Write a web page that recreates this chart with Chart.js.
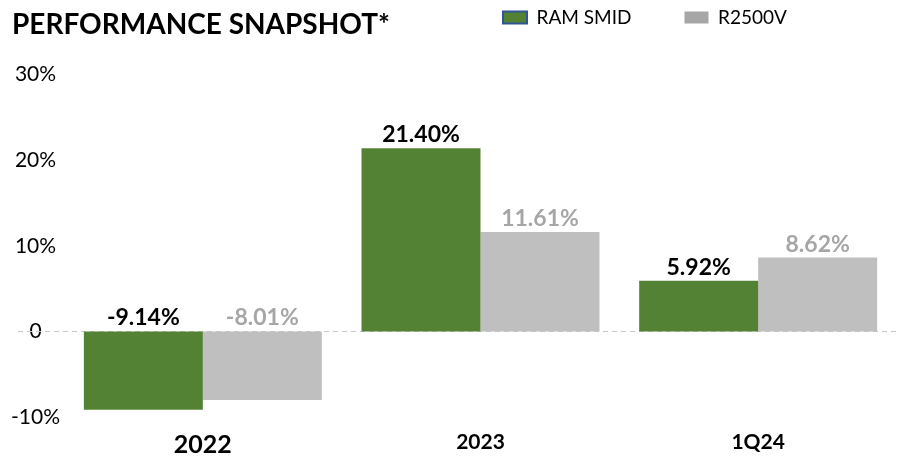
<!DOCTYPE html>
<html><head><meta charset="utf-8">
<script src="https://cdn.jsdelivr.net/npm/chart.js@4/dist/chart.umd.min.js"></script>
<style>html,body{margin:0;padding:0;background:#fff;}#wrap{width:897px;height:456px;}</style>
</head><body><div id="wrap"><canvas id="c" width="897" height="456"></canvas></div>
<script>
const chartTitle = 'PERFORMANCE SNAPSHOT*';
const categories = ['2022', '2023', '1Q24'];
const seriesNames = ['RAM SMID', 'R2500V'];
const ramSmid = [-9.14, 21.40, 5.92];
const r2500v = [-8.01, 11.61, 8.62];
const yTickValues = [-10, 0, 10, 20, 30];

const GREEN = '#548235', GRAY = '#bfbfbf', GRAY_LABEL = '#a6a6a6', LEGEND_GRAY = '#a6a6a6', LEGEND_BORDER = '#2f5597';
const FONT = 'Lato, "Open Sans", sans-serif';

const zeroLine = {
  id: 'zeroLine',
  beforeDatasetsDraw(chart) {
    const y = Math.round(chart.scales.y.getPixelForValue(0)) + 0.5;
    const ctx = chart.ctx;
    ctx.save();
    ctx.strokeStyle = '#c8c8c8';
    ctx.lineWidth = 1;
    ctx.setLineDash([5, 4]);
    ctx.beginPath();
    ctx.moveTo(18, y);
    ctx.lineTo(chart.chartArea.right, y);
    ctx.stroke();
    ctx.restore();
  }
};

const barLabels = {
  id: 'barLabels',
  afterDatasetsDraw(chart) {
    const ctx = chart.ctx;
    chart.data.datasets.forEach((ds, di) => {
      const meta = chart.getDatasetMeta(di);
      meta.data.forEach((bar, i) => {
        const v = ds.data[i];
        const top = Math.min(bar.y, bar.base);
        ctx.save();
        ctx.font = 'bold 23px ' + FONT;
        ctx.fillStyle = di === 0 ? '#000' : GRAY_LABEL;
        ctx.textAlign = 'center';
        ctx.textBaseline = 'bottom';
        ctx.fillText(v.toFixed(2) + '%', bar.x, top - 2);
        ctx.restore();
      });
    });
  }
};

const legendPlace = {
  id: 'legendPlace',
  afterLayout(chart) {
    const lg = chart.legend;
    const pad = lg.options.labels.padding;
    lg.left = 503 - pad;
    lg.right = 897;
    lg.top = 8 - pad;
    lg.bottom = 45;
    lg.width = lg.right - lg.left;
    lg.height = lg.bottom - lg.top;
  }
};

new Chart(document.getElementById('c'), {
  type: 'bar',
  data: {
    labels: categories,
    datasets: [
      { label: seriesNames[0], data: ramSmid, backgroundColor: GREEN, borderWidth: 0 },
      { label: seriesNames[1], data: r2500v, backgroundColor: GRAY, borderWidth: 0 }
    ]
  },
  options: {
    responsive: false,
    animation: false,
    devicePixelRatio: 1,
    layout: { padding: { left: 12, right: 0, top: 0, bottom: 0 } },
    datasets: { bar: { barPercentage: 1, categoryPercentage: 0.857 } },
    plugins: {
      tooltip: { enabled: false },
      title: {
        display: true, text: chartTitle, align: 'start', color: '#000',
        font: { family: FONT, size: 28, weight: 'bold' },
        padding: { top: 8, bottom: 32 }
      },
      legend: {
        display: true, position: 'top', align: 'start', maxHeight: 1,
        labels: {
          boxWidth: 24, boxHeight: 12, padding: 53, color: '#000',
          font: { family: FONT, size: 19 },
          generateLabels() {
            return [
              { text: seriesNames[0], fillStyle: GREEN, strokeStyle: LEGEND_BORDER, lineWidth: 2, datasetIndex: 0 },
              { text: seriesNames[1], fillStyle: LEGEND_GRAY, strokeStyle: LEGEND_GRAY, lineWidth: 0, datasetIndex: 1 }
            ];
          }
        }
      }
    },
    scales: {
      x: {
        grid: { display: false, drawTicks: false },
        border: { display: false },
        ticks: {
          color: '#000', padding: 13,
          font: (ctx) => ({ family: FONT, weight: 'bold', size: ctx.index === 0 ? 25 : 21 })
        },
        afterFit(scale) { scale.height = 39; }
      },
      y: {
        min: -10, max: 30,
        grid: { display: false, drawTicks: false },
        border: { display: false },
        afterBuildTicks(scale) { scale.ticks = yTickValues.map(v => ({ value: v })); },
        ticks: {
          color: '#000', padding: 4, crossAlign: 'center',
          font: { family: FONT, size: 21 },
          callback: (v) => v === 0 ? '0' : v + '%'
        },
        afterFit(scale) { scale.width = 52; }
      }
    }
  },
  plugins: [zeroLine, barLabels, legendPlace]
});
</script>
</body></html>
